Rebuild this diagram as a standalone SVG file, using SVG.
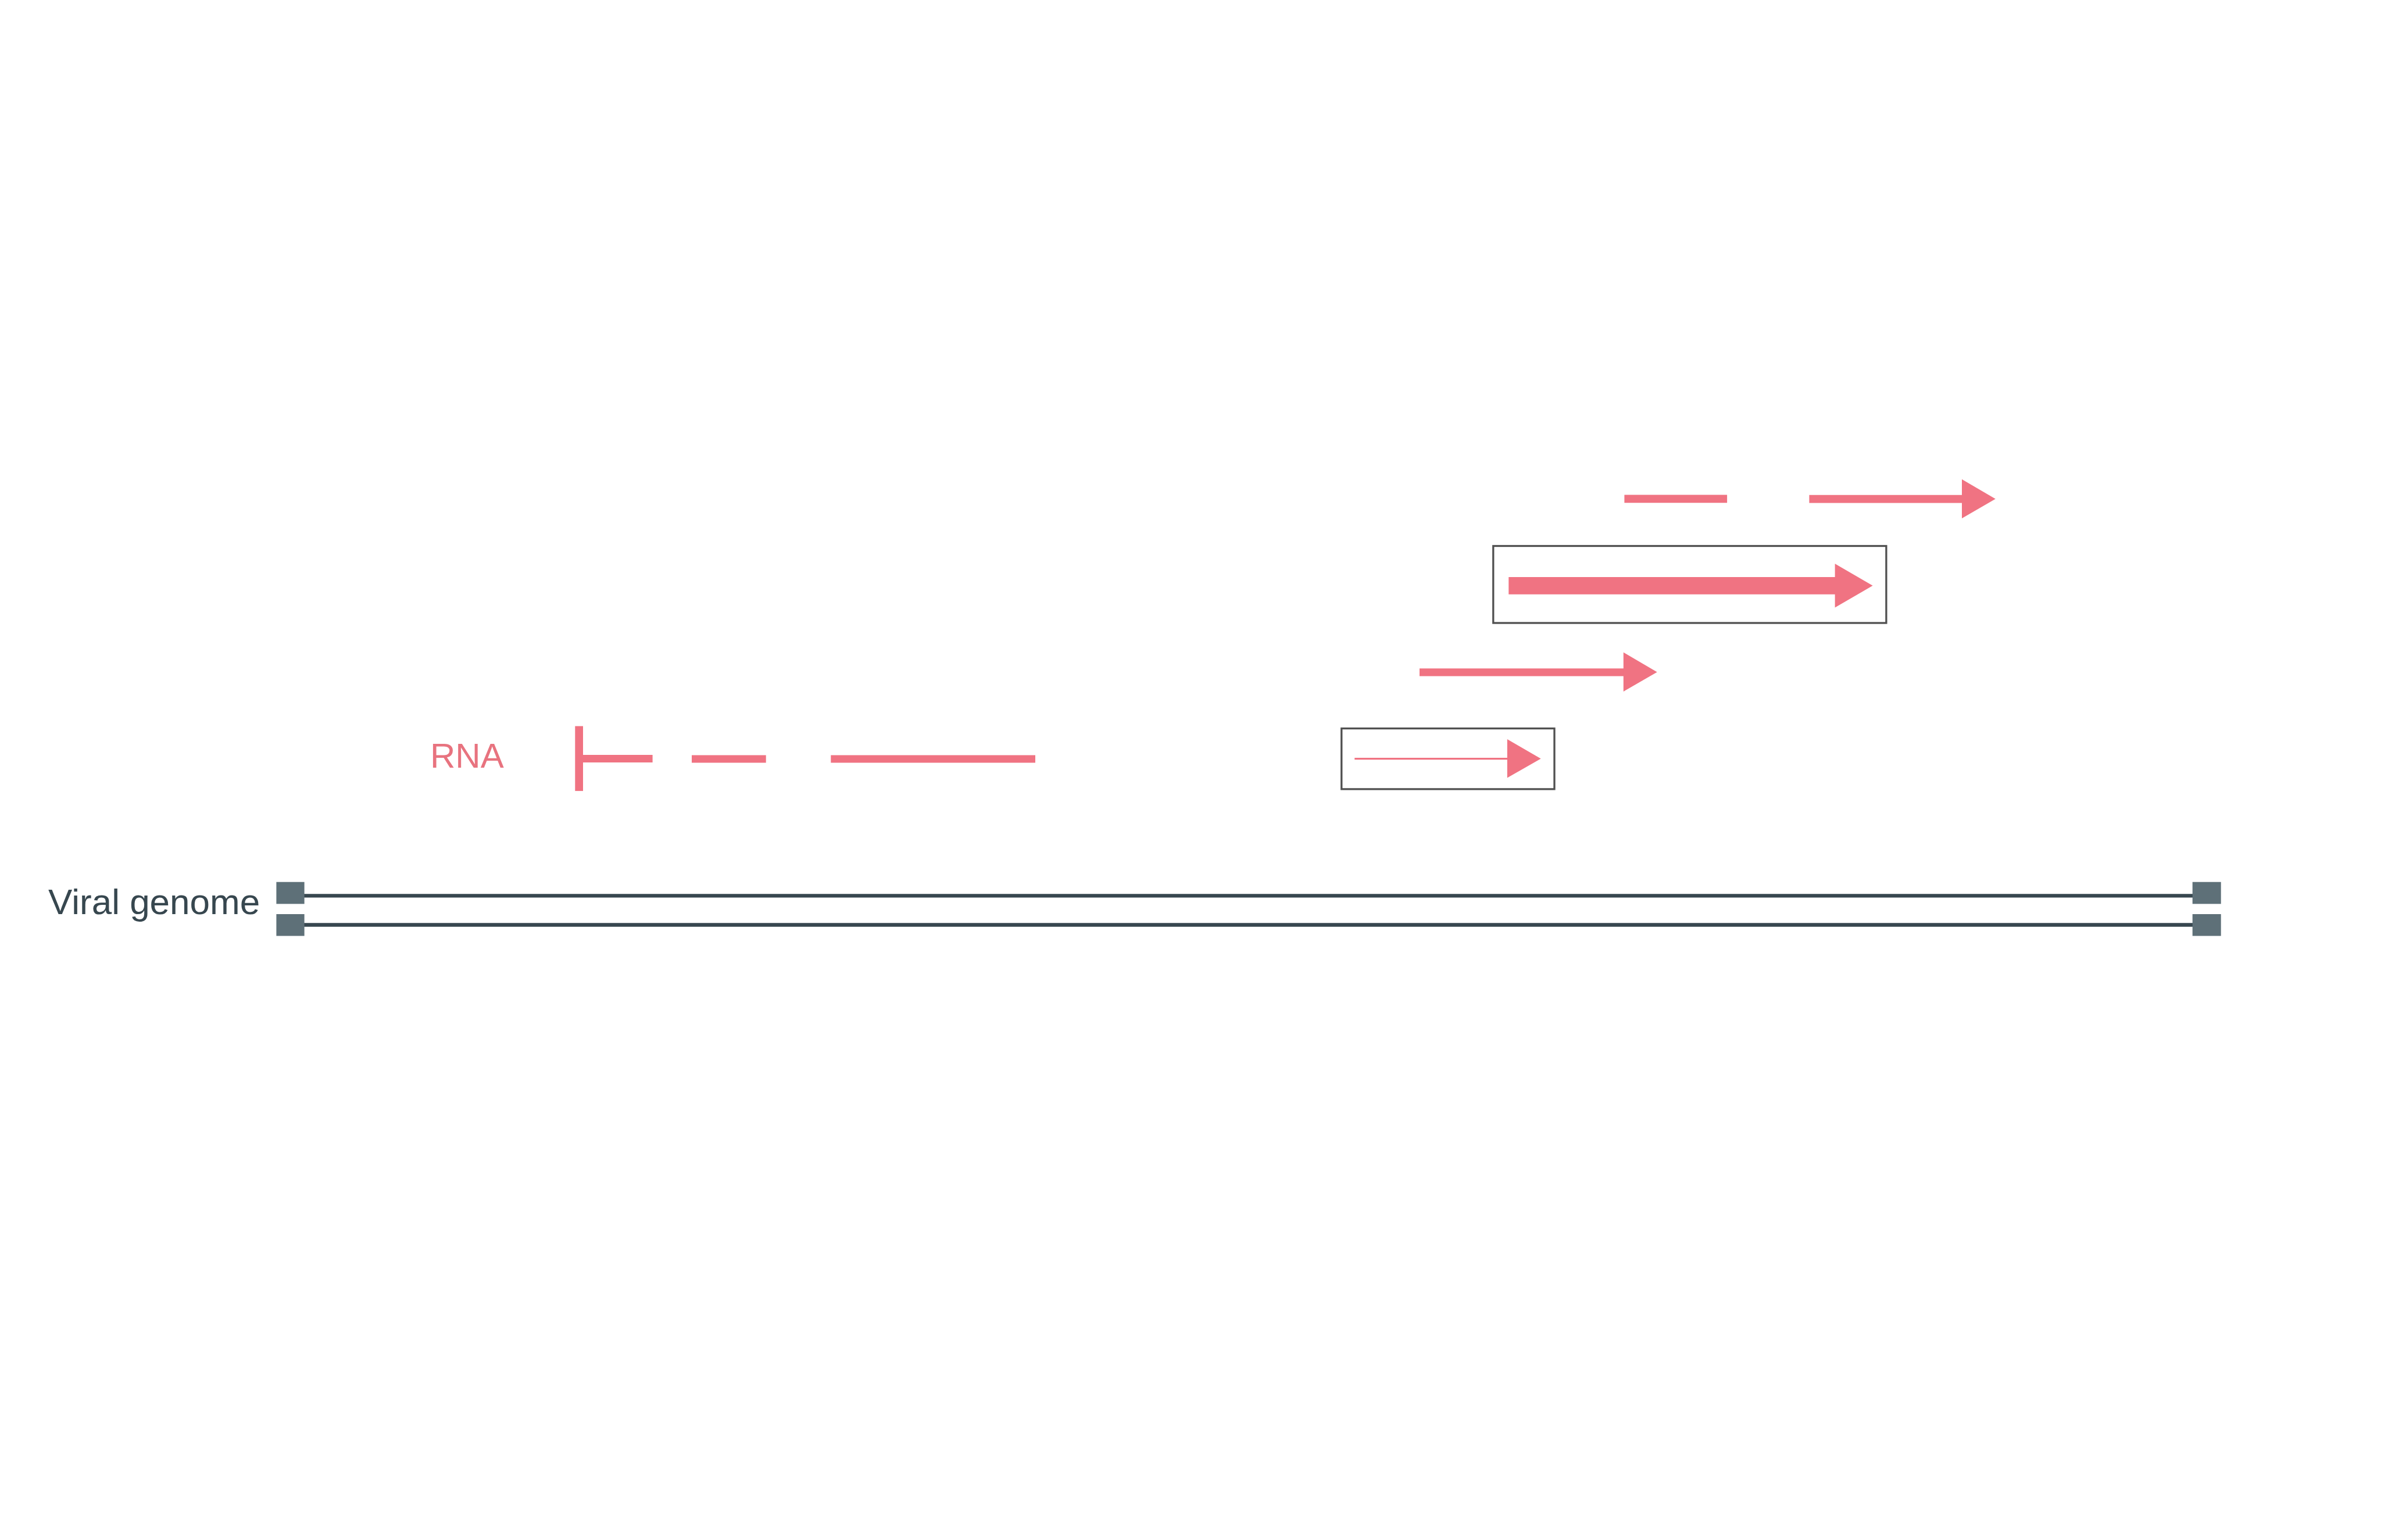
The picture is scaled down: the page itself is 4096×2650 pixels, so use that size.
<svg xmlns="http://www.w3.org/2000/svg" width="4096" height="2650" viewBox="0 0 4096 2650">
<style>
.lbl{font-family:"Liberation Sans",Arial,sans-serif;font-size:62px}
.gen{fill:#37474f}
.rnat{fill:#e8737f;font-size:60px}
.sq{fill:#5e7078}
.gl{stroke:#37474f;stroke-width:6.4;fill:none}
.rl{stroke:#f07382;fill:none}
.rh{fill:#f07382}
.box{fill:none;stroke:#505050;stroke-width:3.3}
</style>
<rect width="4096" height="2650" fill="#ffffff"/>
<g id="genome">
<text class="lbl gen" x="83" y="1573">Viral genome</text>
<line class="gl" x1="523" y1="1541.4" x2="3772" y2="1541.4"/>
<line class="gl" x1="523" y1="1591.5" x2="3772" y2="1591.5"/>
<rect class="sq" x="475.4" y="1517.7" width="48.2" height="37.7"/>
<rect class="sq" x="475.4" y="1573" width="48.2" height="37.5"/>
<rect class="sq" x="3771.7" y="1517.7" width="49" height="37.7"/>
<rect class="sq" x="3771.7" y="1573" width="49" height="37.5"/>
</g>
<g id="rna">
<text class="lbl rnat" x="740" y="1321">RNA</text>
<rect class="rh" x="989.3" y="1249.5" width="13.7" height="111.6"/>
<line class="rl" stroke-width="13.2" x1="1003" y1="1305.5" x2="1122.6" y2="1305.5"/>
<line class="rl" stroke-width="13.2" x1="1190" y1="1306" x2="1317.7" y2="1306"/>
<line class="rl" stroke-width="13.2" x1="1429.3" y1="1306" x2="1781" y2="1306"/>
</g>
<g id="box-small">
<rect class="box" x="2307.8" y="1253.5" width="366.2" height="104.4"/>
<line class="rl" stroke-width="3.2" x1="2330.3" y1="1305.7" x2="2593" y2="1305.7"/>
<polygon class="rh" points="2592.9,1272 2650.7,1305.5 2592.9,1338.6"/>
</g>
<g id="arrow-mid">
<line class="rl" stroke-width="13.4" x1="2442" y1="1156.9" x2="2793" y2="1156.9"/>
<polygon class="rh" points="2792.8,1122.6 2850.7,1156.5 2792.8,1190"/>
</g>
<g id="box-large">
<rect class="box" x="2568.8" y="939.5" width="676.1" height="132.5"/>
<line class="rl" stroke-width="29.7" x1="2595.3" y1="1007.8" x2="3157" y2="1007.8"/>
<polygon class="rh" points="3156.6,970 3221.6,1007.8 3156.6,1045.5"/>
</g>
<g id="arrow-top">
<line class="rl" stroke-width="13.6" x1="2794.4" y1="858.4" x2="2971.1" y2="858.4"/>
<line class="rl" stroke-width="13.6" x1="3112.4" y1="858.6" x2="3375.5" y2="858.6"/>
<polygon class="rh" points="3375,824.7 3432.8,858.4 3375,892.1"/>
</g>
</svg>
